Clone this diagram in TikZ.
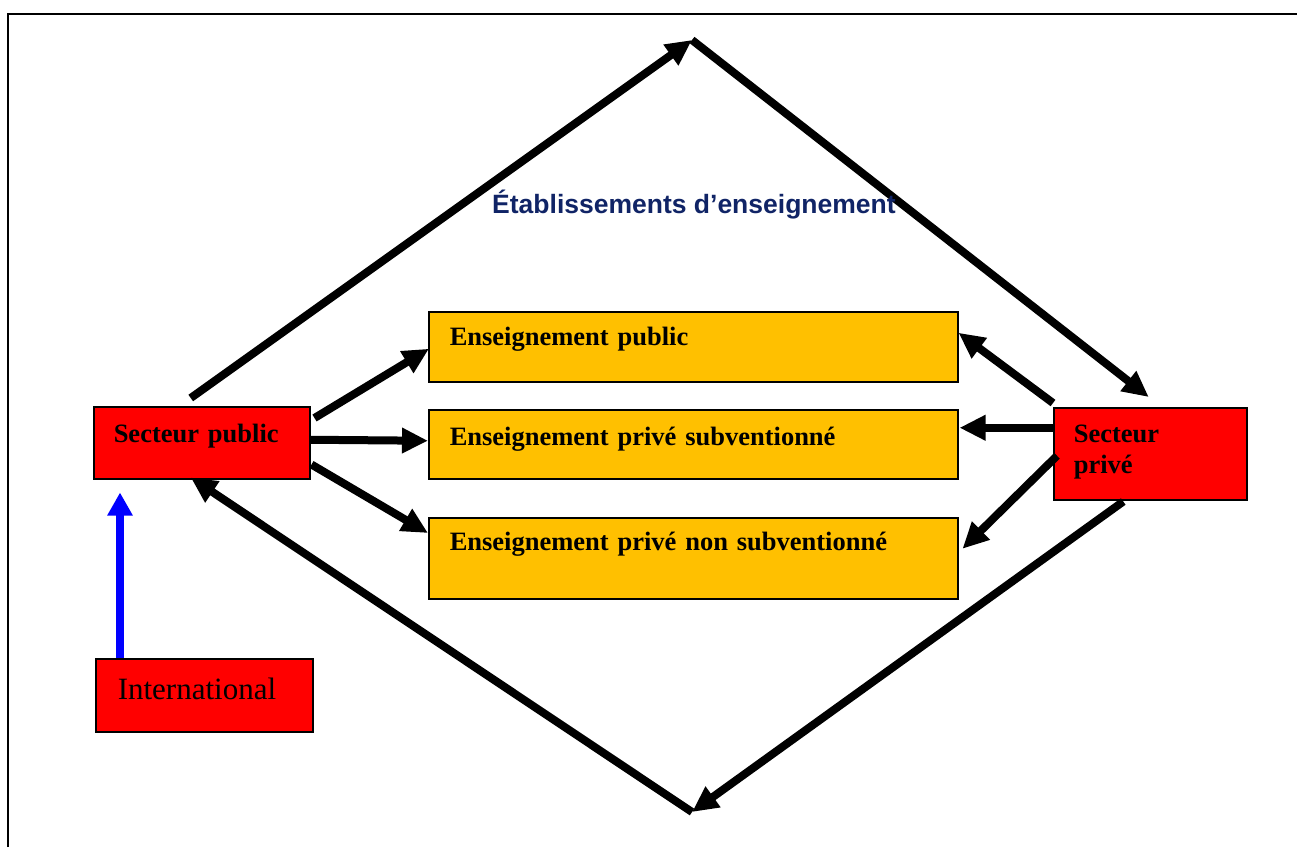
\documentclass[tikz,border=0pt]{standalone}
\usepackage{fontspec}
\setmainfont{Liberation Serif}
\newfontfamily\arialf{Liberation Sans}
\usetikzlibrary{arrows.meta,calc}
\definecolor{boxred}{RGB}{255,0,0}
\definecolor{boxyel}{RGB}{255,192,0}
\definecolor{titlenavy}{RGB}{16,36,102}
\tikzset{
  box/.style={draw=black, line width=1.5pt, anchor=north west, inner ysep=0pt, align=left,
    font=\fontsize{26.5}{31}\selectfont\bfseries},
  arr/.style={-{Triangle[length=26pt,width=24pt]}, line width=8pt, black},
  bluearr/.style={-{Triangle[length=23pt,width=24pt]}, line width=8.5pt, blue},
}
\begin{document}
\begin{tikzpicture}[x=1pt,y=-1pt]
\useasboundingbox (0,0) rectangle (1297,847);
\draw[line width=2pt] (8,847) -- (8,14) -- (1297,14);

\node[box, fill=boxred, inner xsep=20pt, text width=176pt, text height=36pt, text depth=36pt] (spub) at (93,406) {Secteur public};
\node[box, fill=boxred, inner xsep=20pt, text width=153pt, text height=35pt, text depth=57pt] (spriv) at (1053,407) {Secteur\\priv\'e};
\node[box, fill=boxred, inner xsep=22pt, text width=173pt, text height=41pt, text depth=32pt, font=\fontsize{31}{36}\selectfont] (intl) at (95,658) {International};

\node[box, fill=boxyel, inner xsep=21pt, text width=487pt, text height=34pt, text depth=36pt] (ep) at (428,311) {Enseignement public};
\node[box, fill=boxyel, inner xsep=21pt, text width=487pt, text height=36pt, text depth=33pt] (eps) at (428,409) {Enseignement privé subventionné};
\node[box, fill=boxyel, inner xsep=21pt, text width=487pt, text height=33pt, text depth=48pt] (epn) at (428,517) {Enseignement privé non subventionné};

\coordinate (top) at (692,40);
\coordinate (bot) at (692,812);

% outer diamond
\draw[arr] ($(spub.north)+(-11,-8)$) -- (top);
\draw[arr] (top) -- ($(spriv.north)+(-1.5,-10)$);
\draw[arr] ($(spriv.south)+(-27,1)$) -- (bot);
\draw[arr] (bot) -- ($(spub.south)+(-11,-2)$);

% public sector to schools
\draw[arr] ($(spub.north east)+(4,12)$) -- ($(ep.west)+(1,2)$);
\draw[arr] ($(spub.east)+(0,-3)$) -- ($(eps.west)+(0,-3.5)$);
\draw[arr] ($(spub.south east)+(1,-15)$) -- ($(epn.north west)+(0,16)$);

% private sector to schools
\draw[arr] ($(spriv.north west)+(0,-4)$) -- ($(ep.east)+(0,-14)$);
\draw[arr] ($(spriv.west)+(0,-26)$) -- ($(eps.east)+(1,-16.5)$);
\draw[arr] ($(spriv.west)+(4,2)$) -- ($(epn.east)+(4,-9.5)$);

% international
\draw[bluearr] ($(intl.north west)+(25,0)$) -- ($(spub.south west)+(27,13)$);

\node[anchor=base west, inner sep=0pt, text=titlenavy, font=\arialf\bfseries\fontsize{26.5}{30}\selectfont] (title) at (492,213) {Établissements d’enseignement};
\end{tikzpicture}
\end{document}
